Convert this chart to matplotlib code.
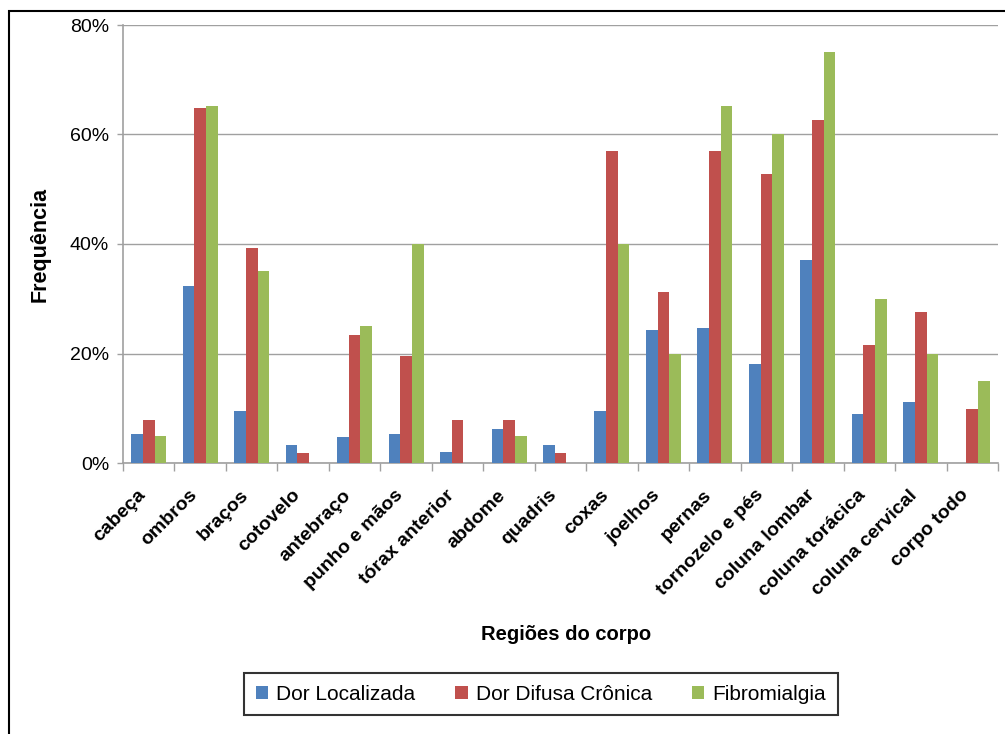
import matplotlib
matplotlib.use("Agg")
import matplotlib.pyplot as plt
from matplotlib.patches import Rectangle
from matplotlib.ticker import FuncFormatter
import numpy as np

plt.rcParams['font.family'] = ['Liberation Sans', 'DejaVu Sans']

# body regions and the share of patients reporting pain in each (%)
regioes = ["cabeça", "ombros", "braços", "cotovelo", "antebraço", "punho e mãos",
           "tórax anterior", "abdome", "quadris", "coxas", "joelhos", "pernas",
           "tornozelo e pés", "coluna lombar", "coluna torácica", "coluna cervical",
           "corpo todo"]
dor_localizada = [5.3, 32.3, 9.5, 3.2, 4.7, 5.3, 2.1, 6.3, 3.2, 9.5, 24.3, 24.6,
                  18.0, 37.1, 8.9, 11.1, 0.0]
dor_difusa = [7.8, 64.8, 39.2, 1.9, 23.3, 19.5, 7.8, 7.8, 1.9, 57.0, 31.2, 57.0,
              52.8, 62.6, 21.5, 27.5, 9.8]
fibromialgia = [5.0, 65.2, 35.0, 0.0, 25.0, 40.0, 0.0, 5.0, 0.0, 40.0, 20.0, 65.2,
                60.0, 75.0, 30.0, 20.0, 15.0]
series_names = ["Dor Localizada", "Dor Difusa Crônica", "Fibromialgia"]
colors = ['#4F81BD', '#C0504D', '#9BBB59']

fig = plt.figure(figsize=(10.05, 7.34), dpi=100)
ax = fig.add_axes([123/1005, 1 - 463/734, (998 - 123)/1005, (463 - 25)/734])

# outer chart frame (runs off the right and bottom edges)
fig.patches.append(Rectangle((9/1005, -0.05), 1.1, 1 - 11/734 + 0.05,
                             transform=fig.transFigure, fill=False,
                             edgecolor='black', linewidth=1.5))

x = np.arange(len(regioes))
w = 0.227
for i, (vals, name) in enumerate(zip([dor_localizada, dor_difusa, fibromialgia], series_names)):
    ax.bar(x + (i - 1) * w, vals, width=w, color=colors[i], label=name, zorder=3)

ax.set_xlim(-0.5, len(regioes) - 0.5)
ax.set_ylim(0, 80)
ax.set_yticks([0, 20, 40, 60, 80])
ax.yaxis.set_major_formatter(FuncFormatter(lambda v, p: f"{v:.0f}%"))
ax.grid(axis='y', color='#A0A0A0', linewidth=1, zorder=0)

for s in ['top', 'right']:
    ax.spines[s].set_visible(False)
for s in ['left', 'bottom']:
    ax.spines[s].set_color('#A0A0A0')
    ax.spines[s].set_linewidth(1.2)

ax.tick_params(axis='y', length=4, width=1, color='#A0A0A0', pad=6, labelsize=14)
ax.set_xticks(x)
ax.set_xticks(np.arange(-0.5, len(regioes)), minor=True)
ax.tick_params(axis='x', which='major', length=0, pad=17)
ax.tick_params(axis='x', which='minor', length=6, width=1, color='#A0A0A0', direction='out')
ax.set_xticklabels(regioes, rotation=45, ha='right', va='top', fontsize=14,
                   fontweight='bold', rotation_mode='default')

ax.set_ylabel("Frequência", fontsize=15.5, fontweight='bold')
ax.yaxis.set_label_coords(-0.083, 0.5)
fig.text(566/1005, 1 - 634/734, "Regiões do corpo", ha='center', va='center',
         fontsize=14.5, fontweight='bold')

leg = fig.legend(loc='center', bbox_to_anchor=(541/1005, 1 - 694/734), ncol=3,
                 fontsize=15, frameon=True, fancybox=False, handlelength=0.6,
                 handleheight=0.6, handletextpad=0.4, columnspacing=1.9,
                 borderpad=0.55)
leg.get_frame().set_edgecolor('black')
leg.get_frame().set_linewidth(1.5)

fig.savefig("out.png", dpi=100)
